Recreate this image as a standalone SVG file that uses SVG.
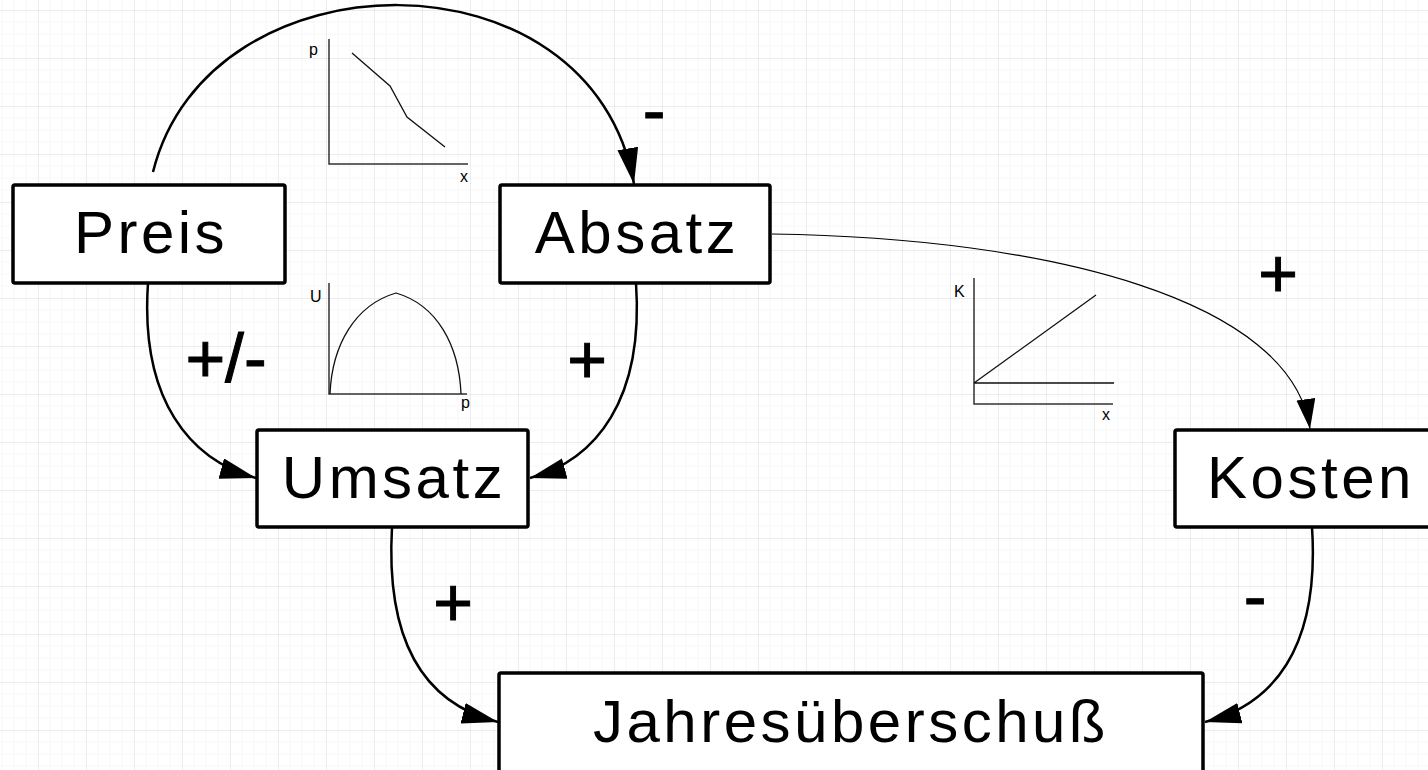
<svg xmlns="http://www.w3.org/2000/svg" width="1428" height="770" viewBox="0 0 1428 770">
<style>
.box{fill:#fff;stroke:#000;stroke-width:3.5}
.lbl{font-family:"Liberation Sans",Arial,sans-serif;font-size:60px;letter-spacing:3.5px;text-anchor:middle;fill:#000}
.sign{font-family:"Liberation Sans",Arial,sans-serif;font-size:68px;text-anchor:middle;fill:#000;stroke:#000;stroke-width:1}
.con{fill:none;stroke:#000;stroke-width:2.5}
.thin{fill:none;stroke:#000;stroke-width:1.2}
.ax{fill:none;stroke:#333;stroke-width:1.5}
.cv{fill:none;stroke:#111;stroke-width:1.3}
.sm{font-family:"Liberation Sans",Arial,sans-serif;font-size:16px;fill:#000}
</style>
<defs>
<pattern id="grid" patternUnits="userSpaceOnUse" x="38" y="10" width="48" height="48">
<path d="M12 0V48M24 0V48M36 0V48M0 12H48M0 24H48M0 36H48" stroke="#f7f7f7" stroke-width="1"/>
<path d="M0 0V48M0 0H48" stroke="#e6e6e6" stroke-width="1.5"/>
</pattern>
<marker id="ah" markerUnits="userSpaceOnUse" markerWidth="38" markerHeight="22" refX="36" refY="10.5" orient="auto" viewBox="0 0 38 22">
<path d="M0,0 L36,10.5 L0,21 z" fill="#000"/>
</marker>
<marker id="ahs" markerUnits="userSpaceOnUse" markerWidth="32" markerHeight="20" refX="30" refY="9.5" orient="auto" viewBox="0 0 32 20">
<path d="M0,0 L30,9.5 L0,19 z" fill="#000"/>
</marker>
</defs>
<rect width="1428" height="770" fill="#fff"/>
<rect width="1428" height="770" fill="url(#grid)"/>

<g id="connectors">
<path class="con" d="M153,172 C208,-50 592,-55 634,184" marker-end="url(#ah)"/>
<path class="con" d="M148,283 C140,400 190,460 256,478" marker-end="url(#ah)"/>
<path class="con" d="M636,283 C644,400 596,460 530,478" marker-end="url(#ah)"/>
<path class="con" d="M392,527 C385,650 430,705 498,722" marker-end="url(#ah)"/>
<path class="con" d="M1312,527 C1320,650 1272,705 1205,722" marker-end="url(#ah)"/>
<path class="thin" d="M772,234 C1050,238 1292,300 1310,429" marker-end="url(#ahs)"/>
</g>

<g id="labels">
<text class="sign" x="654" y="134">-</text>
<text class="sign" x="226" y="382">+/-</text>
<text class="sign" x="587" y="383">+</text>
<text class="sign" x="1278" y="297">+</text>
<text class="sign" x="453" y="626">+</text>
<text class="sign" x="1255" y="620">-</text>
</g>

<g id="chart-px">
<path class="ax" d="M329,39 V164 H468" stroke="#777"/>
<path class="cv" d="M352,53 L390,86 L407,117 L445,147"/>
<text class="sm" x="309" y="55">p</text>
<text class="sm" x="460" y="182">x</text>
</g>

<g id="chart-up">
<path class="ax" d="M329,283 V394 H467"/>
<path class="cv" d="M330,394 C332,345 355,305 396,293 C437,305 459,345 461,394"/>
<text class="sm" x="310" y="302">U</text>
<text class="sm" x="461" y="408">p</text>
</g>

<g id="chart-kx">
<path class="ax" d="M974,278 V404 H1113"/>
<path class="cv" d="M974,383 H1114 M974,383 L1096,295"/>
<text class="sm" x="954" y="297">K</text>
<text class="sm" x="1102" y="420">x</text>
</g>

<g id="node-preis"><rect class="box" x="13" y="185" width="272" height="98" rx="2"/><text class="lbl" x="151" y="253">Preis</text></g>
<g id="node-absatz"><rect class="box" x="500" y="185" width="270" height="98" rx="2"/><text class="lbl" x="637" y="253">Absatz</text></g>
<g id="node-umsatz"><rect class="box" x="257" y="430" width="271" height="97" rx="2"/><text class="lbl" x="394" y="498">Umsatz</text></g>
<g id="node-kosten"><rect class="box" x="1175" y="430" width="271" height="97" rx="2"/><text class="lbl" x="1311" y="498">Kosten</text></g>
<g id="node-jahres"><rect class="box" x="499" y="673" width="704" height="110" rx="2"/><text class="lbl" x="851" y="742">Jahresüberschuß</text></g>
</svg>
